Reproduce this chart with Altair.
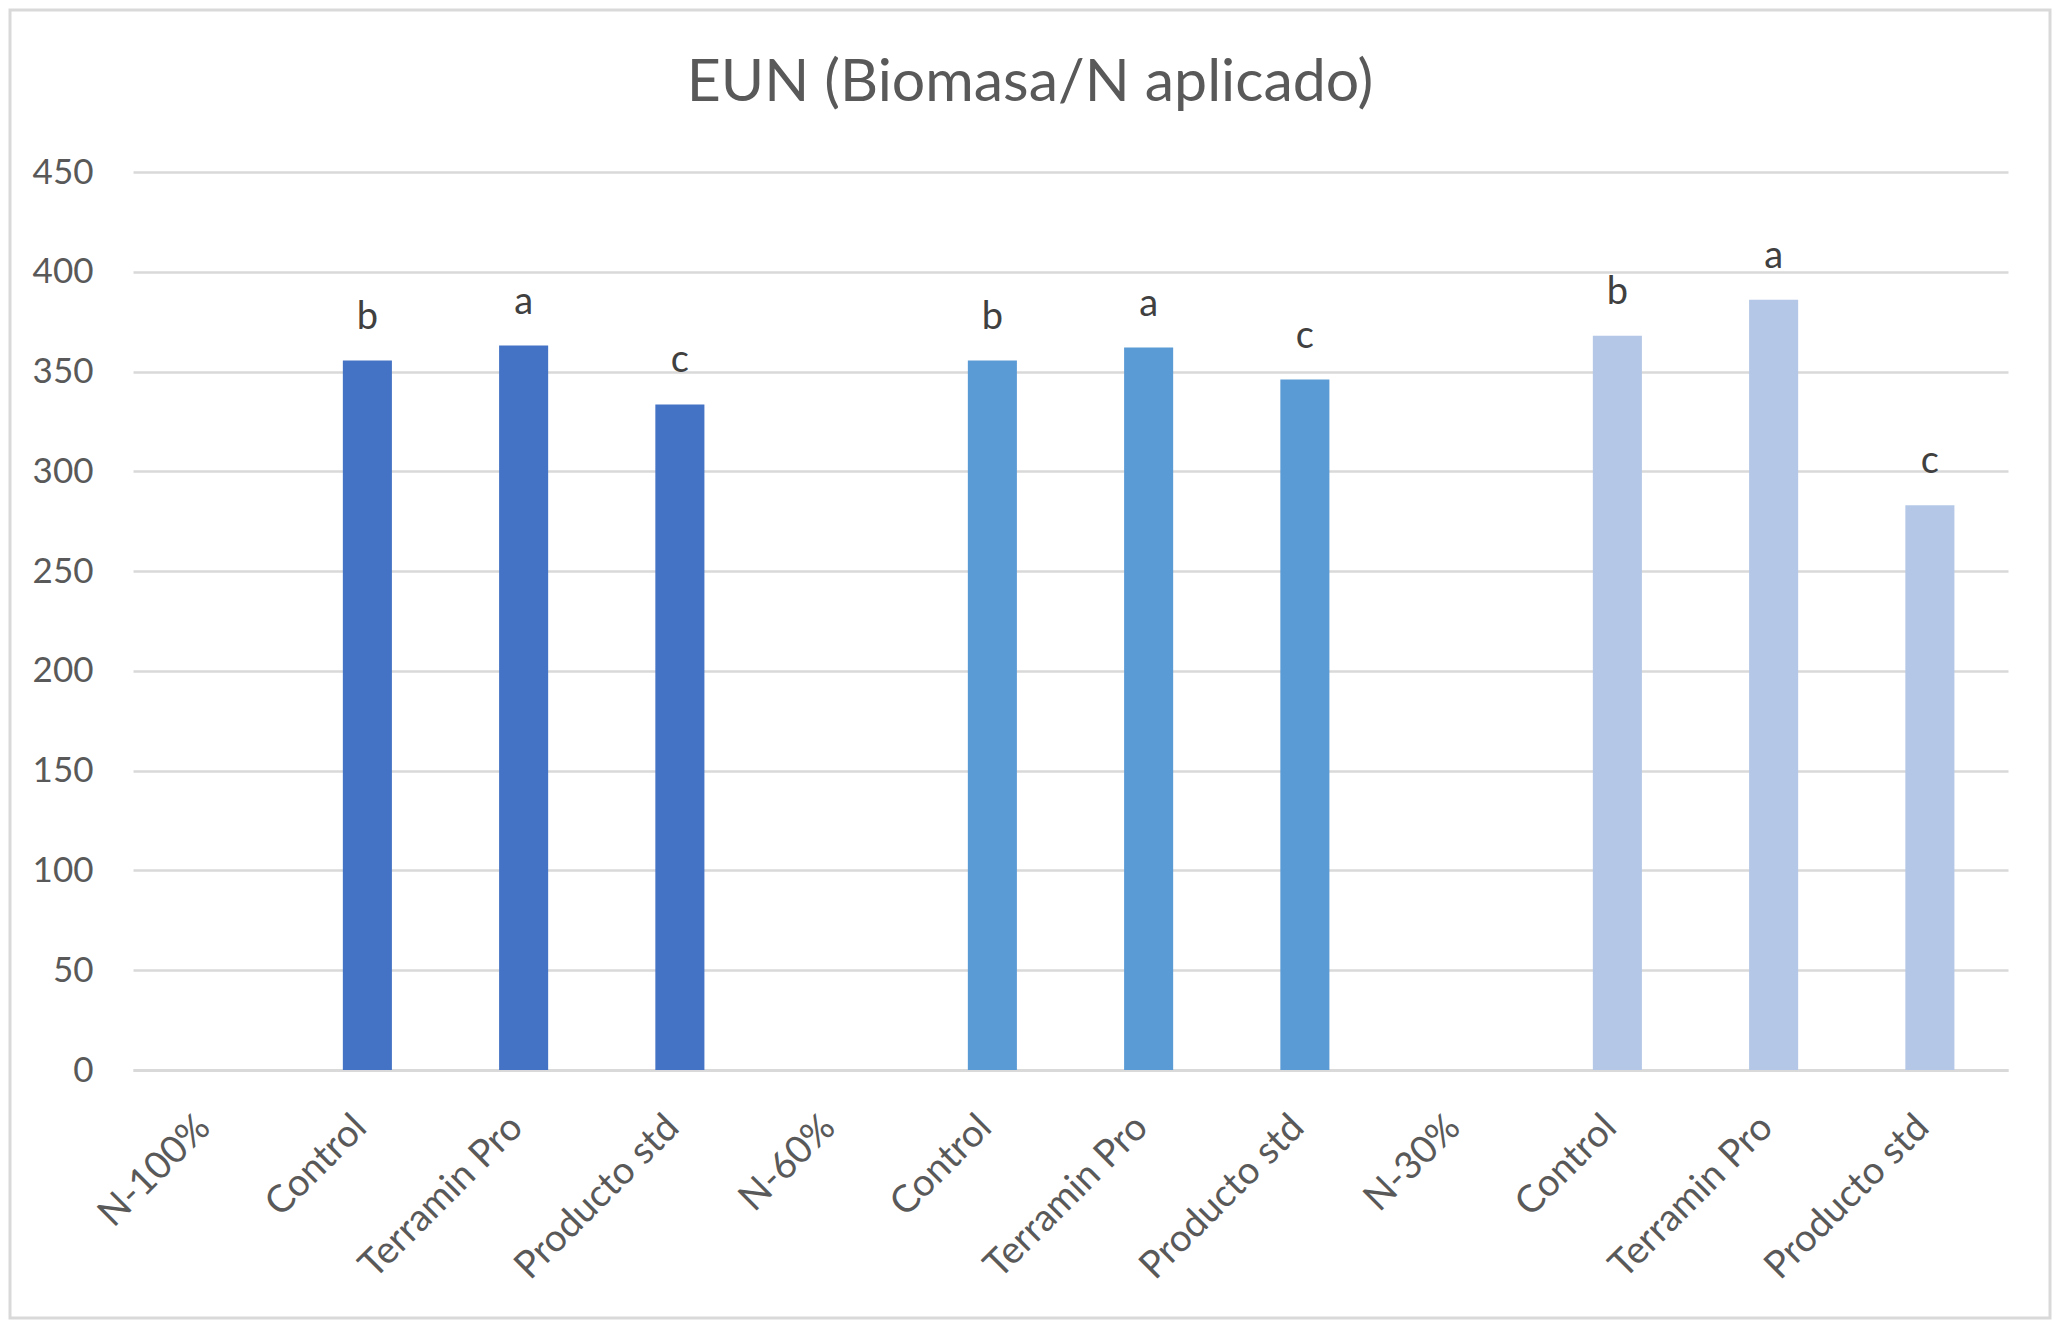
import altair as alt
import pandas as pd

title_text = "EUN (Biomasa/N aplicado)"
groups = ["N-100%", "N-60%", "N-30%"]
treatments = ["Control", "Terramin Pro", "Producto std"]
values_n100 = [355.5, 363, 333.5]
values_n60 = [355.5, 362, 346]
values_n30 = [368, 386, 283]
letters = ["b", "a", "c"]
group_colors = ["#4472C4", "#5B9BD5", "#B4C7E7"]
y_ticks = [0, 50, 100, 150, 200, 250, 300, 350, 400, 450]

all_values = [values_n100, values_n60, values_n30]

rows = []
domain = []
for gi, g in enumerate(groups):
    domain.append(f"{g}|{gi}h")
    for ti, t in enumerate(treatments):
        key = f"{t}|{gi}{ti}"
        domain.append(key)
        rows.append({"key": key, "group": g, "value": all_values[gi][ti],
                     "letter": letters[ti]})
df = pd.DataFrame(rows)

FONT = "Lato"
W, H = 1875, 898

x_enc = alt.X("key:N", scale=alt.Scale(domain=domain, paddingInner=0.686, paddingOuter=0.343),
              sort=domain,
              axis=alt.Axis(title=None, labelAngle=-45, labelAlign="right", labelBaseline="top",
                            labelExpr="split(datum.label, '|')[0]",
                            labelFont=FONT, labelFontSize=38, labelColor="#595959",
                            labelPadding=38, labelOffset=-20, labelLimit=500, ticks=False,
                            domainColor="#D9D9D9", domainWidth=3, grid=False,
                            labelOverlap=False))
y_scale = alt.Scale(domain=[0, 450], nice=False)

bars = alt.Chart(df).mark_bar().encode(
    x=x_enc,
    y=alt.Y("value:Q", scale=y_scale,
            axis=alt.Axis(title=None, values=y_ticks, labelFont=FONT, labelFontSize=35,
                          labelColor="#595959", labelPadding=40, ticks=False, domain=False,
                          gridColor="#D9D9D9", gridWidth=2.5)),
    color=alt.Color("group:N", scale=alt.Scale(domain=groups, range=group_colors), legend=None),
)

text = alt.Chart(df).mark_text(font=FONT, fontSize=38, color="#404040", baseline="alphabetic",
                               dy=-32).encode(
    x=alt.X("key:N", sort=domain),
    y=alt.Y("value:Q", scale=y_scale),
    text="letter:N",
)

frame = alt.Chart(pd.DataFrame({"a": [0]})).mark_rect(fill=None, stroke="#D9D9D9",
                                                        strokeWidth=3).encode(
    x=alt.value(-123), x2=alt.value(W + 42), y=alt.value(-162), y2=alt.value(H + 248))

title = alt.Chart(pd.DataFrame({"t": [title_text]})).mark_text(
    font=FONT, fontSize=59, color="#595959", align="center", baseline="alphabetic").encode(
    x=alt.value(897), y=alt.value(-71), text="t:N")

chart = alt.layer(frame, bars, text, title).properties(
    width=W, height=H,
    autosize=alt.AutoSizeParams(type="none"),
    padding={"left": 125, "top": 164, "right": 44, "bottom": 250},
    background="white",
).configure_view(stroke=None)

chart.save("out.html", embed_options={"renderer": "svg", "actions": False})
